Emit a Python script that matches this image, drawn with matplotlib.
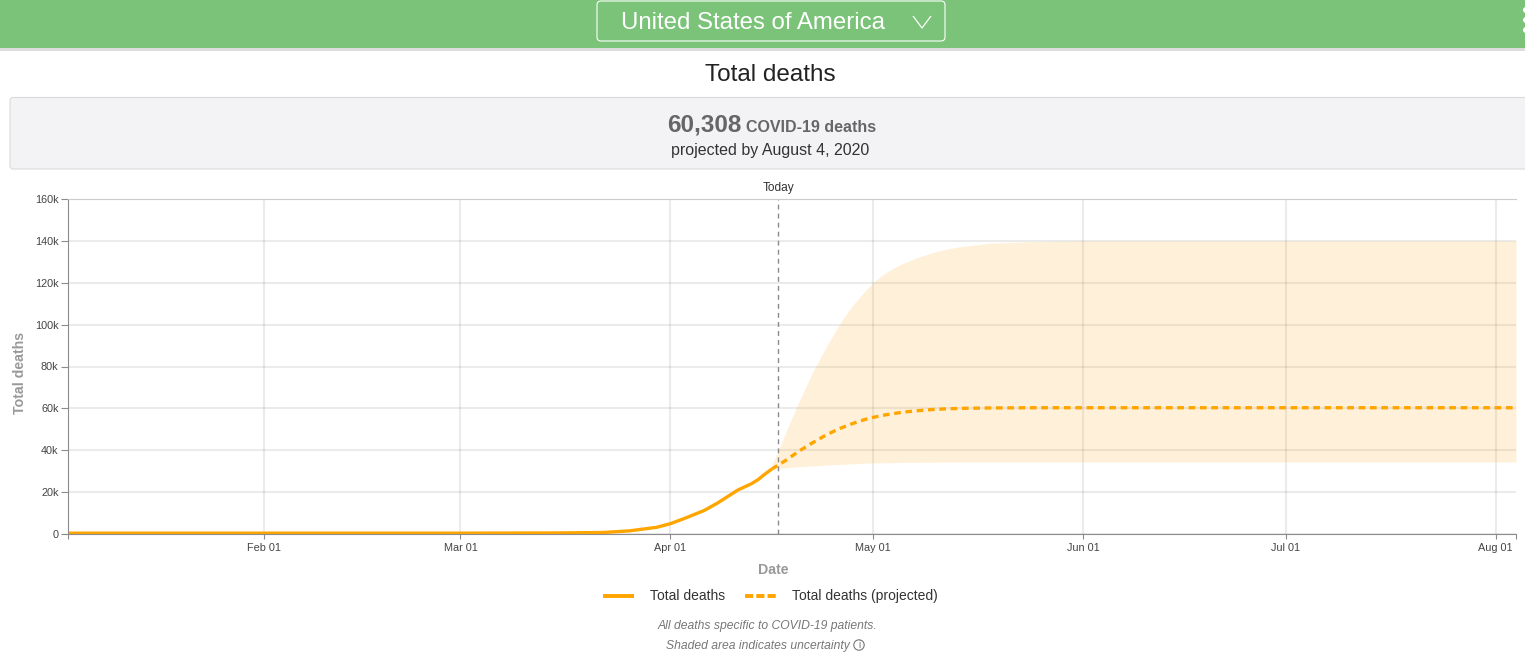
import matplotlib.pyplot as plt
import numpy as np
import matplotlib as mpl
import matplotlib.dates as mdates
from matplotlib.lines import Line2D
from matplotlib.patches import FancyBboxPatch, Rectangle, Circle

# Arial look-alike, the page is set in it
mpl.rcParams['font.family'] = 'Liberation Sans'
mpl.rcParams['font.size'] = 8
mpl.rcParams['lines.solid_capstyle'] = 'butt'

# Define page colors
header_green = '#7AC379'
line_orange = '#FFA500'
panel_grey = '#F3F3F5'
axis_grey = '#8C8C8C'

# Observed deaths
actual_dates = np.array(['2020-01-03', '2020-03-01', '2020-03-15', '2020-03-22', '2020-03-26', '2020-03-30',
                         '2020-04-01', '2020-04-03', '2020-04-06', '2020-04-08', '2020-04-11', '2020-04-13',
                         '2020-04-14', '2020-04-15', '2020-04-16'], dtype='datetime64[D]')
actual_deaths = [400, 400, 500, 700, 1500, 3200, 4900, 7300, 11200, 14800, 21000, 24000, 26000, 28600, 31000]

# Projected deaths and the band around them
proj_dates = np.array(['2020-04-16', '2020-04-17', '2020-04-18', '2020-04-20', '2020-04-22', '2020-04-24',
                       '2020-04-25', '2020-04-26', '2020-04-27', '2020-04-28', '2020-04-29', '2020-04-30',
                       '2020-05-01', '2020-05-02', '2020-05-03', '2020-05-04', '2020-05-05', '2020-05-06',
                       '2020-05-08', '2020-05-10', '2020-05-12', '2020-05-14', '2020-05-18', '2020-05-24',
                       '2020-06-01', '2020-07-01', '2020-08-04'], dtype='datetime64[D]')
proj_deaths = [31000, 33000, 35000, 39500, 43500, 47200, 48800, 50300, 51600, 52800, 53900, 54900,
               55700, 56400, 57000, 57500, 58000, 58400, 59000, 59500, 59800, 60000, 60200, 60300,
               60308, 60308, 60308]
proj_lower = [30800, 31300, 31600, 32100, 32500, 32900, 33050, 33200, 33350, 33500, 33650, 33800,
              33900, 34000, 34050, 34100, 34150, 34200, 34250, 34300, 34350, 34400, 34400, 34400,
              34400, 34400, 34400]
proj_upper = [33000, 40000, 48000, 63000, 77000, 89000, 94600, 100000, 105000, 109300, 113200, 116800,
              120000, 122800, 125100, 127000, 128700, 130100, 132600, 134600, 136200, 137300, 138800,
              139600, 140000, 140000, 140000]

# Set up the figure, one inch is 100 pixels of the page
plt.figure(figsize=(15.25, 6.58), dpi=100)
fig = plt.gcf()

# The chart itself
ax = plt.axes([68 / 1525, (658 - 534) / 658, (1516 - 68) / 1525, 335 / 658])
ax.fill_between(proj_dates, proj_lower, proj_upper, color=line_orange, alpha=0.15, linewidth=0)
ax.plot(actual_dates, actual_deaths, color=line_orange, linewidth=2.4)
ax.plot(proj_dates, proj_deaths, color=line_orange, linewidth=2.4, linestyle=(0, (2, 1.4)))
ax.axvline(np.datetime64('2020-04-17'), color='#8A8A8A', linewidth=1, linestyle=(0, (3.5, 3)))

ax.set_xlim(np.datetime64('2020-01-03'), np.datetime64('2020-08-04'))
ax.set_ylim(0, 160000)

# Ticks
month_ticks = np.array(['2020-02-01', '2020-03-01', '2020-04-01', '2020-05-01', '2020-06-01', '2020-07-01',
                        '2020-08-01'], dtype='datetime64[D]')
ax.set_xticks(month_ticks)
ax.xaxis.set_major_formatter(mdates.DateFormatter('%b %d'))
ax.set_xticks([np.datetime64('2020-01-03'), np.datetime64('2020-08-04')], minor=True)
ax.set_yticks(np.arange(0, 160001, 20000))
ax.set_yticklabels(['0', '20k', '40k', '60k', '80k', '100k', '120k', '140k', '160k'])
ax.tick_params(axis='x', which='both', length=3.6, width=0.8, color=axis_grey, labelcolor='#444444',
               labelsize=7.8, pad=3)
ax.tick_params(axis='y', length=4.8, width=0.8, color=axis_grey, labelcolor='#444444', labelsize=7.8, pad=2)

# Grid under the marks
ax.set_axisbelow(True)
ax.grid(True, color='#000000', alpha=0.08, linewidth=1.5)

# Spines
ax.spines['top'].set_color('#CCCCCC')
ax.spines['right'].set_visible(False)
ax.spines['left'].set_color(axis_grey)
ax.spines['bottom'].set_color(axis_grey)

ax.set_xlabel('Date', fontsize=10.2, fontweight='bold', color='#999999')
ax.xaxis.set_label_coords((773 - 68) / 1448, -29 / 335)
ax.set_ylabel('Total deaths', fontsize=10.2, fontweight='bold', color='#999999')
ax.yaxis.set_label_coords(-41 / 1448, (534 - 373) / 335)

# Legend handles have their own dash length
legend_lines = [Line2D([], [], color=line_orange, linewidth=2.8),
                Line2D([], [], color=line_orange, linewidth=2.8, linestyle=(0, (2.1, 0.8)))]
ax.legend(legend_lines, ['Total deaths', 'Total deaths (projected)'], loc='upper center',
          bbox_to_anchor=(0.485, -0.128), ncol=2, frameon=False, fontsize=10,
          handlelength=2.2, handletextpad=1.15, columnspacing=1.45, labelcolor='#333333')

# Page furniture goes on a second axes that counts in pixels
page = plt.axes([0, 0, 1, 1], zorder=-1)
page.set_axis_off()
page.set_xlim(0, 1525)
page.set_ylim(658, 0)

page.add_patch(Rectangle((0, 0), 1525, 48, facecolor=header_green, edgecolor='none'))
page.add_patch(Rectangle((0, 48), 1525, 3, facecolor='#DDDDDD', edgecolor='none'))
page.add_patch(FancyBboxPatch((597, 1), 348, 40, boxstyle='round,pad=0,rounding_size=4',
                              facecolor='none', edgecolor='white', linewidth=0.8))
page.text(753, 23, 'United States of America', color='white', fontsize=17.3, ha='center', va='center')
page.plot([913, 922, 931], [16, 28, 16], color='white', linewidth=0.9)  # dropdown arrow
for dot_y in [10, 20, 30]:
    page.add_patch(Circle((1526, dot_y), 3, facecolor='white', edgecolor='none'))

page.text(770, 75, 'Total deaths', color='#222222', fontsize=17.5, ha='center', va='center')

# Summary panel
page.add_patch(FancyBboxPatch((10, 97.5), 1530, 71.5, boxstyle='round,pad=0,rounding_size=3',
                              facecolor=panel_grey, edgecolor='#DADADA', linewidth=0.8))
page.text(742, 125, '60,308', color='#666666', fontsize=17.5, fontweight='bold', ha='right', va='center')
page.text(746, 127, 'COVID-19 deaths', color='#666666', fontsize=11.5, fontweight='bold', ha='left', va='center')
page.text(770, 151, 'projected by August 4, 2020', color='#333333', fontsize=11.5, ha='center', va='center')

page.text(779, 188, 'Today', color='#333333', fontsize=8.6, ha='center', va='center')

# Footnote
page.text(767, 625.5, 'All deaths specific to COVID-19 patients.', color='#777777', fontsize=8.75,
          style='italic', ha='center', va='center')
page.text(757.5, 646.5, 'Shaded area indicates uncertainty', color='#777777', fontsize=8.75,
          style='italic', ha='center', va='center')
page.add_patch(Circle((859, 645), 5.2, facecolor='none', edgecolor='#777777', linewidth=0.8))
page.text(859, 645, 'i', color='#777777', fontsize=7, ha='center', va='center')

# Save the figure
plt.savefig('out.png', dpi=100)
